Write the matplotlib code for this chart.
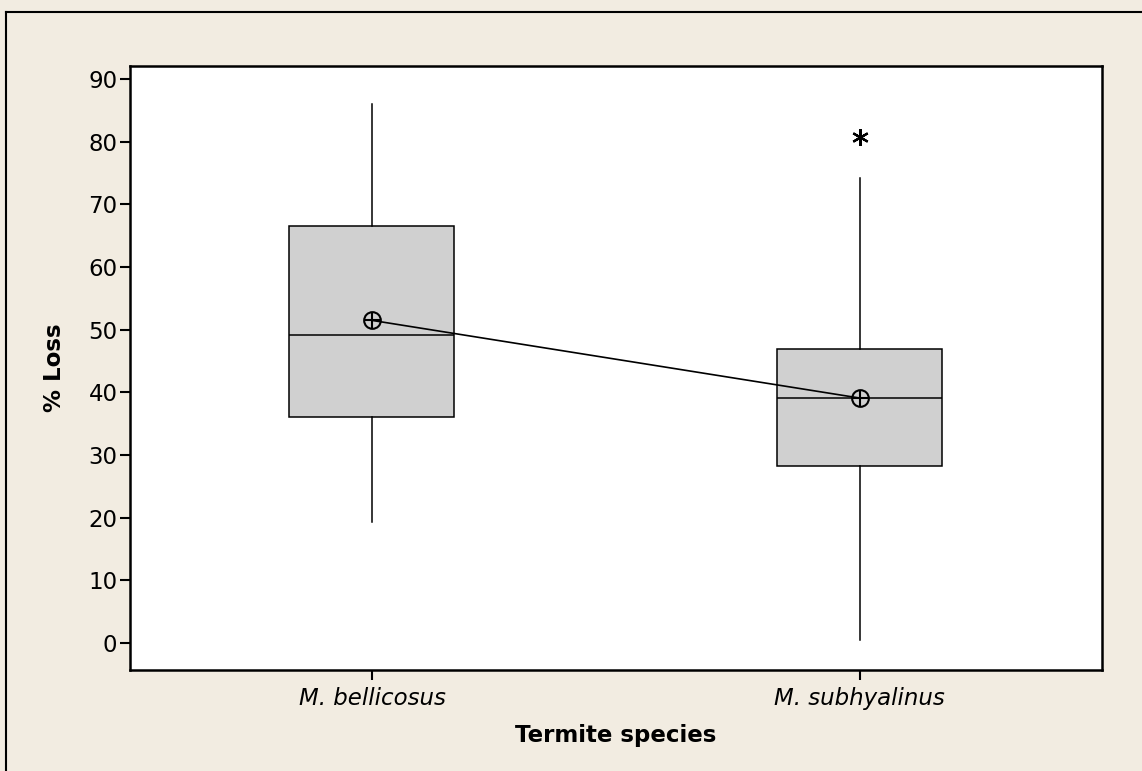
import matplotlib
matplotlib.use("Agg")
from matplotlib import pyplot as plt
from matplotlib.lines import Line2D
import numpy as np

# summary values
species = ["M. bellicosus", "M. subhyalinus"]
q1 = [36.0, 28.2]
median = [49.1, 39.1]
q3 = [66.5, 47.0]
whisker_low = [19.3, 0.5]
whisker_high = [86.0, 74.2]
means = [51.5, 39.1]
outliers = [[], [80.7]]
yticks = [0, 10, 20, 30, 40, 50, 60, 70, 80, 90]

bg = "#f2ece1"
plt.rcParams['font.family'] = ['DejaVu Sans']

fig = plt.figure(figsize=(11.42, 7.71), dpi=100, facecolor=bg)
ax = fig.add_axes([0.1138, 0.131, 0.851, 0.7834])
ax.set_facecolor("white")

stats = []
for i in range(len(species)):
    stats.append(dict(med=median[i], q1=q1[i], q3=q3[i],
                      whislo=whisker_low[i], whishi=whisker_high[i],
                      fliers=outliers[i], label=species[i]))

pos = np.arange(1, len(species) + 1)
ax.bxp(stats, positions=pos, widths=0.338, patch_artist=True, showcaps=False,
       boxprops=dict(facecolor="#d0d0d0", edgecolor="black", linewidth=1.1),
       medianprops=dict(color="black", linewidth=1.1),
       whiskerprops=dict(color="black", linewidth=1.1),
       flierprops=dict(marker=(6, 2, 0), markersize=12, markeredgecolor="black",
                       markeredgewidth=1.6, linestyle="none"))

# mean connect line + circled-plus symbols
ax.plot(pos, means, color="black", linewidth=1.2, zorder=4)
ax.plot(pos, means, linestyle="none", marker="o", markersize=12,
        markerfacecolor="none", markeredgecolor="black", markeredgewidth=1.5, zorder=5)
ax.plot(pos, means, linestyle="none", marker="+", markersize=12,
        markeredgecolor="black", markeredgewidth=1.5, zorder=5)

ax.set_xlim(0.504, 2.496)
ax.set_ylim(-4.3, 92.1)
ax.set_yticks(yticks)
ax.set_xticks(pos)
ax.set_xticklabels(species, fontstyle="italic", fontsize=16.5)
ax.tick_params(axis="y", labelsize=16.5, length=7, width=1.5, pad=2)
ax.tick_params(axis="x", length=7, width=1.5, pad=5)
for s in ax.spines.values():
    s.set_linewidth(1.8)

ax.set_ylabel("% Loss", fontsize=16.5, fontweight="bold", labelpad=16)
ax.set_xlabel("Termite species", fontsize=16.5, fontweight="bold", labelpad=10)

# outer frame, only top and left edges visible
fig.add_artist(Line2D([0.0053, 1.0], [0.9844, 0.9844], color="black", linewidth=1.5))
fig.add_artist(Line2D([0.0053, 0.0053], [0.0, 0.9844], color="black", linewidth=1.5))

fig.savefig("out.png", dpi=100, facecolor=bg)
